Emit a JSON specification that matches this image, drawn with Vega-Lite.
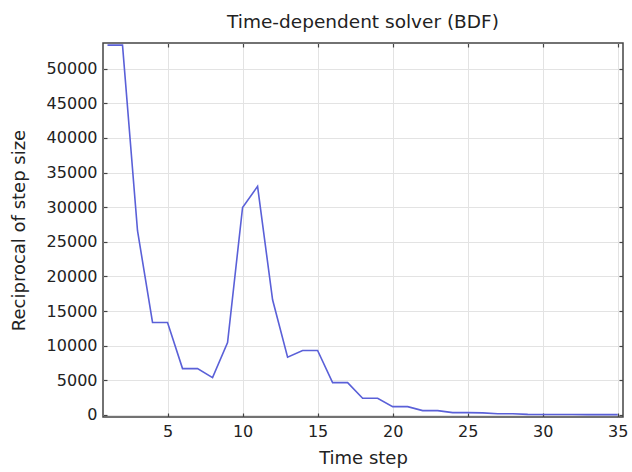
{
  "$schema": "https://vega.github.io/schema/vega-lite/v6.json",
  "autosize": "none",
  "width": 520,
  "height": 374,
  "padding": {"left": 103, "top": 43, "right": 9, "bottom": 55},
  "background": "white",
  "title": {"text": "Time-dependent solver (BDF)", "font": "DejaVu Sans", "fontSize": 18.5, "fontWeight": "normal", "color": "#222", "offset": 11},
  "config": {
    "view": {"stroke": "#444", "strokeWidth": 1.5},
    "axis": {"labelFont": "DejaVu Sans", "titleFont": "DejaVu Sans", "labelColor": "#222", "titleColor": "#222", "gridColor": "#e3e3e3", "gridWidth": 1, "domain": false, "tickColor": "#444", "tickSize": -4, "tickWidth": 1.2, "labelFontSize": 16, "titleFontSize": 18, "titleFontWeight": "normal"}
  },
  "data": {"values": [
    {"step": 1, "r": 53400}, {"step": 2, "r": 53400}, {"step": 3, "r": 26600},
    {"step": 4, "r": 13350}, {"step": 5, "r": 13350}, {"step": 6, "r": 6690},
    {"step": 7, "r": 6690}, {"step": 8, "r": 5390}, {"step": 9, "r": 10450},
    {"step": 10, "r": 29960}, {"step": 11, "r": 33000}, {"step": 12, "r": 16620},
    {"step": 13, "r": 8340}, {"step": 14, "r": 9300}, {"step": 15, "r": 9300},
    {"step": 16, "r": 4670}, {"step": 17, "r": 4670}, {"step": 18, "r": 2410},
    {"step": 19, "r": 2410}, {"step": 20, "r": 1200}, {"step": 21, "r": 1200},
    {"step": 22, "r": 620}, {"step": 23, "r": 620}, {"step": 24, "r": 330},
    {"step": 25, "r": 330}, {"step": 26, "r": 300}, {"step": 27, "r": 160},
    {"step": 28, "r": 160}, {"step": 29, "r": 80}, {"step": 30, "r": 70},
    {"step": 31, "r": 60}, {"step": 32, "r": 60}, {"step": 33, "r": 50},
    {"step": 34, "r": 50}, {"step": 35, "r": 50}
  ]},
  "layer": [
    {
      "mark": {"type": "line", "color": "#5a60d8", "strokeWidth": 1.6, "clip": true},
      "encoding": {
        "x": {"field": "step", "type": "quantitative", "scale": {"domain": [0.7, 35.35], "nice": false, "zero": false},
              "axis": {"title": "Time step", "values": [5, 10, 15, 20, 25, 30, 35], "labelPadding": 10, "titlePadding": 10}},
        "y": {"field": "r", "type": "quantitative", "scale": {"domain": [-300, 53700], "nice": false, "zero": false},
              "axis": {"title": "Reciprocal of step size", "values": [0, 5000, 10000, 15000, 20000, 25000, 30000, 35000, 40000, 45000, 50000], "format": "d", "labelPadding": 10, "titlePadding": 18}}
      }
    },
    {
      "mark": {"type": "line", "opacity": 0},
      "encoding": {
        "x": {"field": "step", "type": "quantitative", "axis": {"orient": "top", "title": null, "labels": false, "grid": false, "values": [5, 10, 15, 20, 25, 30, 35]}},
        "y": {"field": "r", "type": "quantitative", "axis": {"orient": "right", "title": null, "labels": false, "grid": false, "values": [0, 5000, 10000, 15000, 20000, 25000, 30000, 35000, 40000, 45000, 50000]}}
      }
    }
  ],
  "resolve": {"axis": {"x": "independent", "y": "independent"}}
}
